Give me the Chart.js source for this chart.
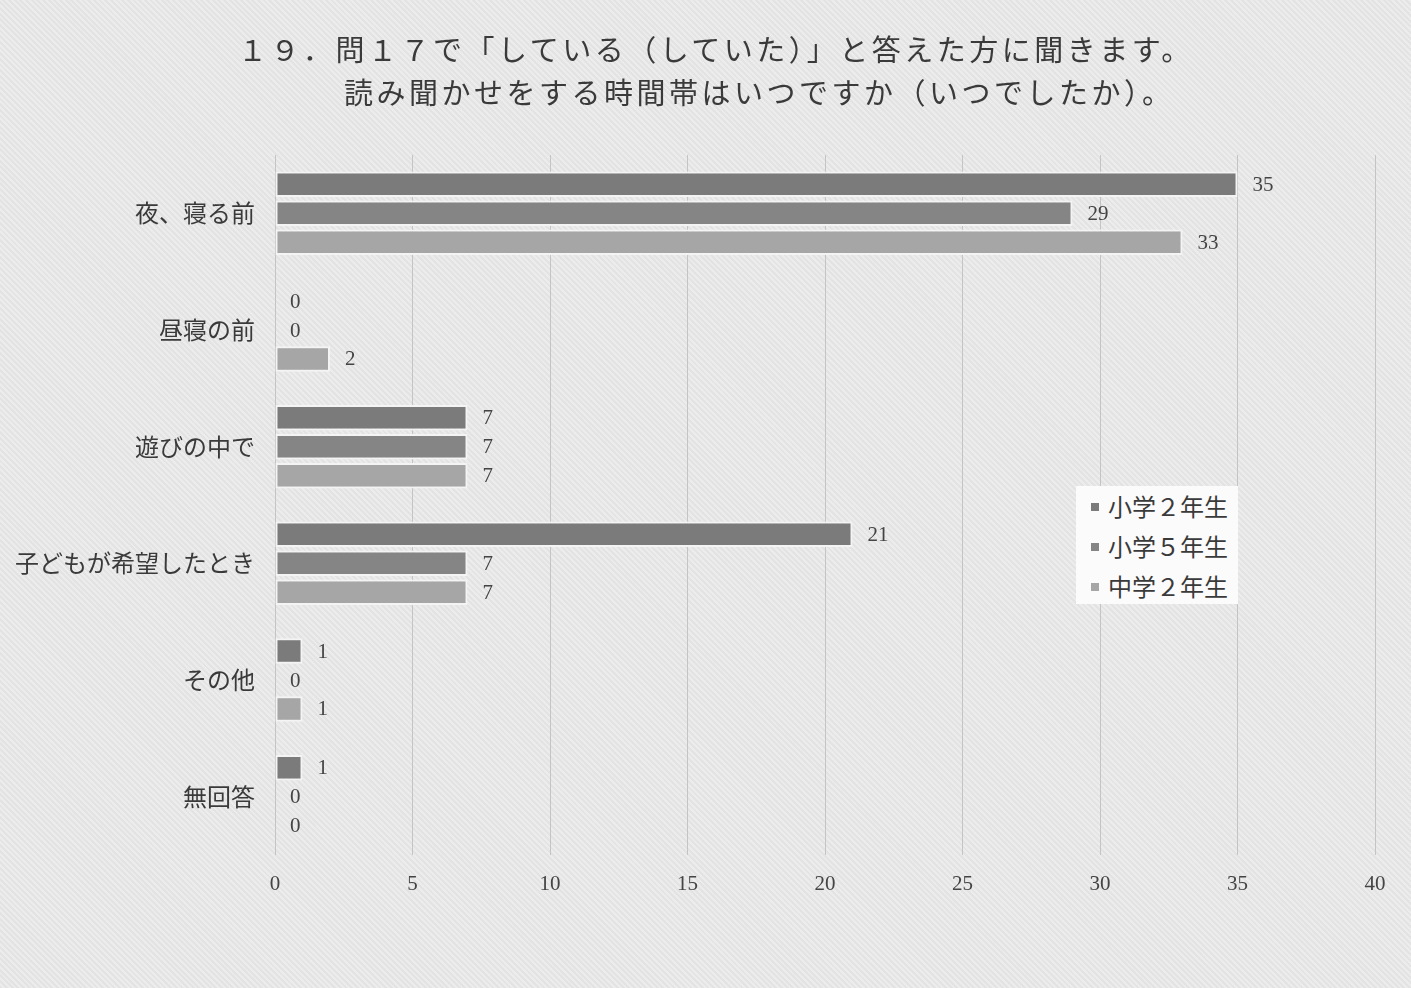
<!DOCTYPE html>
<html lang="ja">
<head>
<meta charset="utf-8">
<script src="https://cdn.jsdelivr.net/npm/chart.js@4"></script>
<style>
  html, body { margin: 0; padding: 0; background: #f7f7f7; }
  #wrap {
    position: relative; width: 1411px; height: 988px; overflow: hidden;
    background: repeating-linear-gradient(45deg, #e3e3e3 0 2px, #ececec 2px 4px);
  }
  #wrap canvas { position: absolute; left: 0; top: 0; }
  .title {
    position: absolute; font-family: "Noto Sans CJK JP", sans-serif;
    font-size: 29px; color: #3a3a3a; letter-spacing: 3.5px; white-space: nowrap;
  }
  #legend {
    position: absolute; left: 1076px; top: 486px; width: 162px; height: 118px;
    background: #fbfbfb; font-family: "Noto Sans CJK JP", sans-serif;
    font-size: 24px; color: #3a3a3a;
  }
  #legend div { position: absolute; left: 15px; white-space: nowrap; }
  #legend span.sw { display: inline-block; width: 8px; height: 8px; margin-right: 9px; vertical-align: middle; position: relative; top: -2px; }
</style>
</head>
<body>
<div id="wrap">
  <canvas id="chart" width="1411" height="988"></canvas>
  <div class="title" style="left:238px; top:27px;">１９．問１７で「している（していた）」と答えた方に聞きます。</div>
  <div class="title" style="left:344px; top:70px;">読み聞かせをする時間帯はいつですか（いつでしたか）。</div>
  <div id="legend"></div>
</div>
<script>
// Data
const categories = ['夜、寝る前', '昼寝の前', '遊びの中で', '子どもが希望したとき', 'その他', '無回答'];
const seriesNames = ['小学２年生', '小学５年生', '中学２年生'];
const grade2 = [35, 0, 7, 21, 1, 1];
const grade5 = [29, 0, 7, 7, 0, 0];
const junior2 = [33, 2, 7, 7, 1, 0];
const xTicks = [0, 5, 10, 15, 20, 25, 30, 35, 40];

const colors = ['#7b7b7b', '#858585', '#a6a6a6'];

// legend (HTML, floating inside the plot)
const legend = document.getElementById('legend');
seriesNames.forEach((name, i) => {
    const d = document.createElement('div');
    d.style.top = (2 + i * 40) + 'px';
    d.innerHTML = `<span class="sw" style="background:${colors[i]}"></span>${name}`;
    legend.appendChild(d);
});

// value labels at the end of each bar
const valueLabels = {
    id: 'valueLabels',
    afterDatasetsDraw(chart) {
        const ctx = chart.ctx;
        ctx.save();
        ctx.font = '21px "Liberation Serif", serif';
        ctx.fillStyle = '#444';
        ctx.textBaseline = 'middle';
        ctx.textAlign = 'left';
        chart.data.datasets.forEach((ds, i) => {
            chart.getDatasetMeta(i).data.forEach((bar, j) => {
                ctx.fillText(ds.data[j], bar.x + 15, bar.y + 1);
            });
        });
        ctx.restore();
    }
};

const makeSet = (label, data, i) => ({
    label: label,
    data: data,
    backgroundColor: colors[i],
    borderColor: '#f4f4f4',
    borderWidth: 2,
    borderSkipped: false,
    categoryPercentage: 0.745,
    barPercentage: 0.88
});

new Chart(document.getElementById('chart'), {
    type: 'bar',
    data: {
        labels: categories,
        datasets: [
            makeSet(seriesNames[0], grade2, 0),
            makeSet(seriesNames[1], grade5, 1),
            makeSet(seriesNames[2], junior2, 2)
        ]
    },
    options: {
        indexAxis: 'y',
        responsive: false,
        animation: false,
        layout: { padding: { left: 0, right: 36, top: 155, bottom: 73 } },
        plugins: {
            legend: { display: false },
            tooltip: { enabled: false }
        },
        scales: {
            x: {
                min: 0, max: 40,
                afterBuildTicks: (s) => { s.ticks = xTicks.map(v => ({ value: v })); },
                afterFit: (s) => { s.height = 60; },
                grid: { color: '#c4c4c4', lineWidth: 1, drawTicks: false },
                border: { display: false },
                ticks: {
                    padding: 17,
                    color: '#444',
                    font: { family: '"Liberation Serif", serif', size: 21 }
                }
            },
            y: {
                afterFit: (s) => { s.width = 275; },
                grid: { display: false, drawTicks: false },
                border: { display: false },
                ticks: {
                    padding: 20,
                    color: '#3a3a3a',
                    font: { family: '"Noto Sans CJK JP", sans-serif', size: 24 }
                }
            }
        }
    },
    plugins: [valueLabels]
});
</script>
</body>
</html>
